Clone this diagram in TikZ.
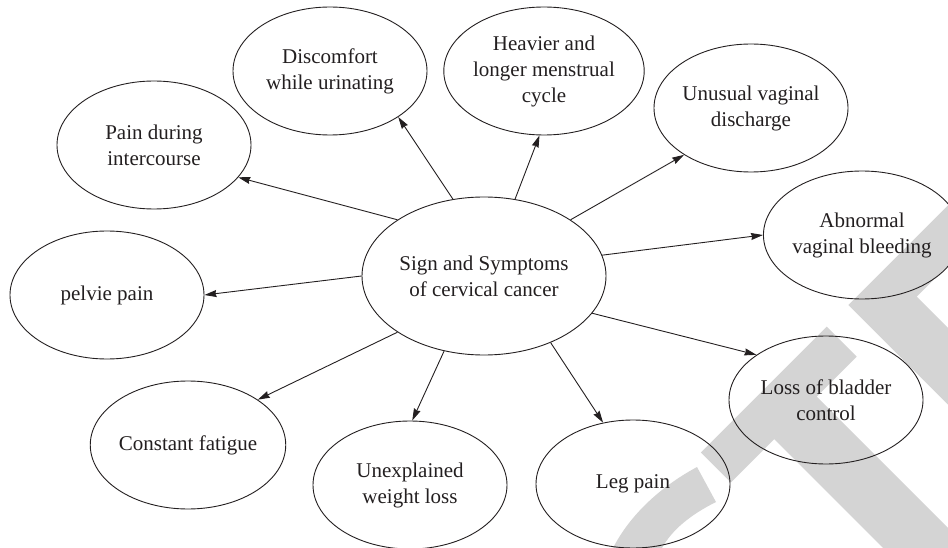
\documentclass[tikz,border=0pt]{standalone}
\usepackage{fontspec}
\setmainfont{Liberation Serif}
\usetikzlibrary{shapes.geometric,arrows.meta}
\definecolor{wm}{RGB}{212,212,212}
\definecolor{ink}{RGB}{35,31,32}
\begin{document}
\begin{tikzpicture}[x=1pt,y=-1pt,
  bubble/.style={ellipse,draw=ink,line width=0.9pt,minimum width=194pt,minimum height=128pt,
    inner sep=0pt,align=center,text=ink,font=\fontsize{21}{26}\selectfont},
  hub/.style={bubble,minimum width=244pt,minimum height=158pt},
  link/.style={draw=ink,line width=0.9pt,-{Stealth[length=12pt,width=7pt,inset=1pt]}}]
\useasboundingbox (0,0) rectangle (948,548);
% watermark
\fill[wm] (948,205.3) -- (848.3,305) -- (948,404.7) -- (948,328) -- (916.7,296.7) -- (948,265.3) -- cycle;
\fill[wm] (700.8,452.5) -- (826.7,326.7) -- (856.7,356.7) -- (816.7,396.7) -- (948,528) -- (948,548)
  -- (883,548) -- (774.2,439.2) -- (730.8,482.5) -- cycle;
\fill[wm] (697,467) .. controls (660,487) and (630,515) .. (613,548) -- (662,548)
  .. controls (672,530) and (690,515) .. (716,502) -- cycle;
% nodes
\node[hub] (c) at (484,276) {Sign and Symptoms\\of cervical cancer};
\node[bubble] (pain) at (154,145) {Pain during\\intercourse};
\node[bubble] (disc) at (330,71) {Discomfort\\while urinating};
\node[bubble] (heav) at (544,71) {Heavier and\\longer menstrual\\cycle};
\node[bubble] (unus) at (751,108) {Unusual vaginal\\discharge};
\node[bubble] (abn) at (862,235) {Abnormal\\vaginal bleeding};
\node[bubble] (pel) at (107,295) {pelvie pain};
\node[bubble] (fat) at (188,445) {Constant fatigue};
\node[bubble] (wt) at (410,485) {Unexplained\\weight loss};
\node[bubble] (leg) at (633,484) {Leg pain};
\node[bubble] (blad) at (826,400) {Loss of bladder\\control};
% connectors
\draw[link] (c.147) -- (pain.339);
\draw[link] (c.112) -- (disc.326);
\draw[link] (c.68) -- (heav.266);
\draw[link] (c.33) -- (unus.215);
\draw[link] (c.10) -- (abn.180);
\draw[link] (c.180) -- (pel.0);
\draw[link] (c.213) -- (fat.33);
\draw[link] (c.242) -- (wt.88);
\draw[link] (c.315) -- (leg.116);
\draw[link] (c.341) -- (blad.147);
\end{tikzpicture}
\end{document}
